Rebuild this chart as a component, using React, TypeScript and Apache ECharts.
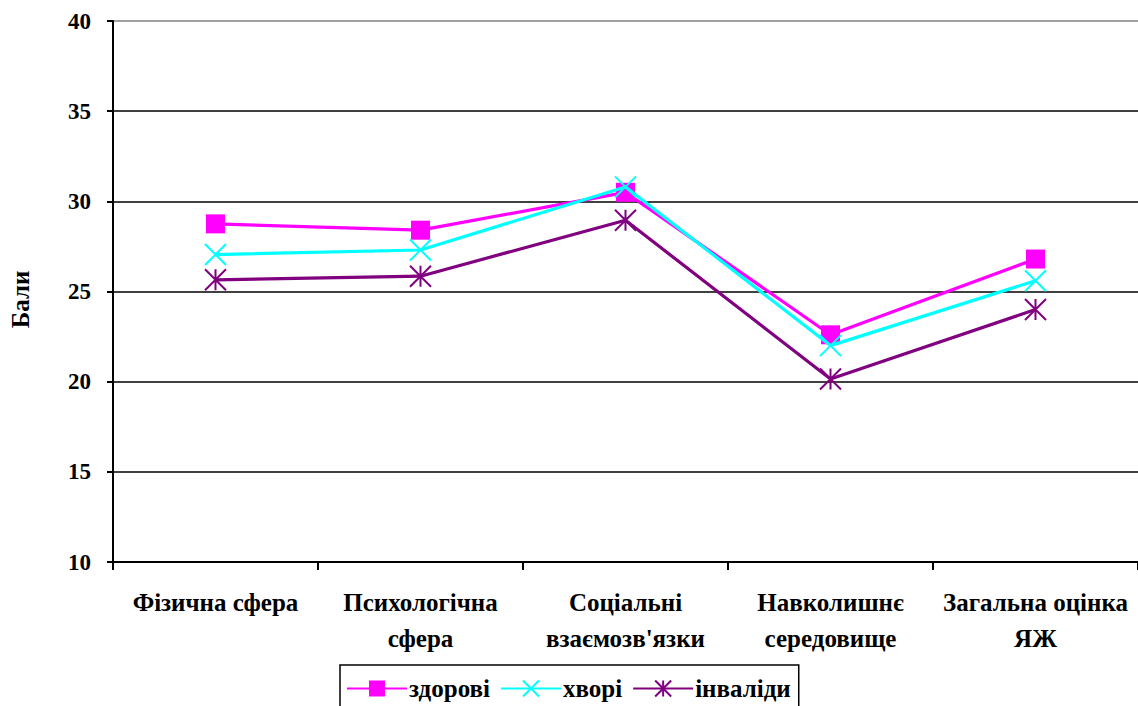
import React, { useEffect, useRef } from "react";
import * as echarts from "echarts";

const categories = [
  "Фізична сфера",
  "Психологічна\nсфера",
  "Соціальні\nвзаємозв'язки",
  "Навколишнє\nсередовище",
  "Загальна оцінка\nЯЖ",
];
const healthy = [28.75, 28.4, 30.5, 22.6, 26.8];
const sick = [27.05, 27.3, 30.8, 22.0, 25.6];
const disabled = [25.65, 25.85, 28.95, 20.15, 24.0];
const seriesNames = ["здорові", "хворі", "інваліди"];
const yTicks = { min: 10, max: 40, interval: 5 };

const FONT = "Liberation Serif";

export default function App() {
  const ref = useRef<HTMLDivElement>(null);
  useEffect(() => {
    if (!ref.current) return;
    const chart = echarts.init(ref.current, undefined, { renderer: "svg" });
    const crossPath = "path://M0,0L10,10M10,0L0,10";
    const starPath = "path://M0,0L10,10M10,0L0,10M5,0L5,10";
    chart.setOption({
      animation: false,
      backgroundColor: "#ffffff",
      textStyle: { fontFamily: FONT },
      grid: { left: 110, top: 21, right: -8, bottom: 144, containLabel: false },
      legend: {
        left: 340,
        top: 665,
        orient: "horizontal",
        padding: [11, 8, 14, 6],
        itemWidth: 60,
        itemHeight: 20,
        itemGap: 10,
        borderColor: "#000",
        borderWidth: 1.5,
        textStyle: { fontFamily: FONT, fontWeight: "bold", fontSize: 25, color: "#000", padding: [0, 0, 0, -3] },
        data: seriesNames,
      },
      xAxis: {
        type: "category",
        data: categories,
        boundaryGap: true,
        axisLine: { lineStyle: { color: "#000", width: 2 } },
        axisTick: { show: true, length: 8, lineStyle: { color: "#000", width: 2 } },
        axisLabel: {
          interval: 0,
          margin: 22,
          fontFamily: FONT,
          fontWeight: "bold",
          fontSize: 25,
          lineHeight: 36,
          color: "#000",
        },
      },
      yAxis: {
        type: "value",
        min: yTicks.min,
        max: yTicks.max,
        interval: yTicks.interval,
        name: "Бали",
        nameLocation: "middle",
        nameRotate: 90,
        nameGap: 80,
        nameTextStyle: { fontFamily: FONT, fontWeight: "bold", fontSize: 25, color: "#000", padding: [0, 16, 0, 0] },
        axisLine: { show: true, lineStyle: { color: "#000", width: 2 } },
        axisTick: { show: true, length: 6, lineStyle: { color: "#000", width: 2 } },
        axisLabel: { margin: 22, fontFamily: FONT, fontWeight: "bold", fontSize: 23, color: "#000" },
        splitLine: {
          show: true,
          lineStyle: {
            color: ["#000", "#000", "#000", "#000", "#000", "#000", "#808080"],
            width: 1.6,
          },
        },
      },
      series: [
        {
          name: seriesNames[0],
          type: "line",
          data: healthy,
          symbol: "rect",
          symbolSize: 19,
          color: "#ff00ff",
          lineStyle: { width: 3.2, color: "#ff00ff" },
          itemStyle: { color: "#ff00ff" },
          z: 4,
        },
        {
          name: seriesNames[1],
          type: "line",
          data: sick,
          symbol: crossPath,
          symbolSize: 21,
          color: "#00ffff",
          lineStyle: { width: 3.2, color: "#00ffff" },
          itemStyle: { color: "#00ffff", borderColor: "#00ffff", borderWidth: 2 },
          z: 5,
        },
        {
          name: seriesNames[2],
          type: "line",
          data: disabled,
          symbol: starPath,
          symbolSize: 21,
          color: "#800080",
          lineStyle: { width: 3.2, color: "#800080" },
          itemStyle: { color: "#800080", borderColor: "#800080", borderWidth: 2 },
          z: 3,
        },
      ],
    });
    return () => chart.dispose();
  }, []);
  return (
    <div
      ref={ref}
      style={{ position: "fixed", left: 0, top: 0, width: 1138, height: 706, background: "#fff" }}
    />
  );
}
